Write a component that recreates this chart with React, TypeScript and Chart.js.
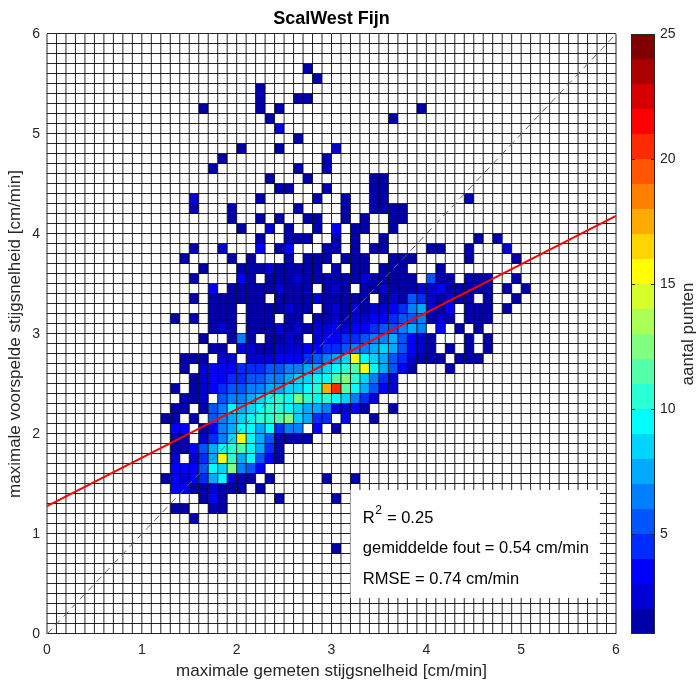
import React, { useEffect, useRef } from "react";
import { Chart, registerables } from "chart.js";
Chart.register(...registerables);

const W = 697;
const H = 682;
const FONT = "'Liberation Sans', Arial, Helvetica, sans-serif";

const chartTitle = "ScalWest Fijn";
const xTitle = "maximale gemeten stijgsnelheid [cm/min]";
const yTitle = "maximale voorspelde stijgsnelheid [cm/min]";
const cbTitle = "aantal punten";
const xTicks = [0, 1, 2, 3, 4, 5, 6];
const yTicks = [0, 1, 2, 3, 4, 5, 6];
const cbTicks = [5, 10, 15, 20, 25];
const cbMin = 1;
const cbMax = 25;
const binSize = 0.1;
const firstCol = 11;
const topRow = 56;
// counts per 0.1 x 0.1 bin; '.'=0, 1-9, a=10 ... o=24 ; '|' separators (cols 11-20|21-30|31-40|41-50|51-53)
const countRows = [
  "..........|......1...|..........|..........|...", // 56
  "..........|.......1..|..........|..........|...", // 55
  "..........|.1........|..........|..........|...", // 54
  "..........|.1...11...|..........|..........|...", // 53
  ".....1....|.1.1......|........1.|..........|...", // 52
  "..........|..1.......|.....1....|..........|...", // 51
  "..........|...2......|..........|..........|...", // 50
  "..........|.....1....|..........|..........|...", // 49
  ".........1|...1.....2|..........|..........|...", // 48
  ".......1..|........1.|..........|..........|...", // 47
  "......1...|.....1..1.|..........|..........|...", // 46
  "..........|..1...1...|...11.....|..........|...", // 45
  "..........|...11...1.|...11.....|..........|...", // 44
  "....2.....|.1.....1..|1..11.....|...1......|...", // 43
  "....1...1.|.....1....|1..1111...|..........|...", // 42
  "........1.|.1.1..11..|1.1..11...|..........|...", // 41
  ".........1|..2.1..1.3|.11..1....|..........|...", // 40
  "..........|.1..111..1|.1..1.....|....1.1...|...", // 39
  "....1..2..|.3.13...11|.1.11....1|1..1...2..|...", // 38
  "...1....1.|1...1.111.|111..111..|...1....1.|...", // 37
  ".....1...1|11211111.1|.11.111...|1.........|...", // 36
  "....1....3|1.11121111|11211111.5|11.111..1.|...", // 35
  "......3.11|1112111.12|1.11211122|311111.1.1|...", // 34
  "....1.1111|11.1111211|111.121542|1211.1..1.|...", // 33
  "......111.|1111211.12|1212234672|13.111.1..|...", // 32
  "..1.1.111.|111.11.112|1223345561|21.111....|...", // 31
  "......121.|1112121223|233455676.|3.1.1.....|...", // 30
  ".....1..16|1.1121.233|4456675321|...1.1....|...", // 29
  "......11.2|2112223344|5667875321|.1.1.1....|...", // 28
  "...111.22.|2223334567|8f98754211|1.111.....|...", // 27
  "...1.23334|4455667789|abf97531..|.1........|...", // 26
  "....123344|556678899b|ca8642....|..........|...", // 25
  "..1.123455|6677889ahk|b97532....|..........|...", // 24
  "...112.566|789a9ca9a9|8642......|..........|...", // 23
  "..11.15697|89aa987762|231..1....|..........|...", // 22
  ".11.1.5678|9aabc8744.|3..1......|..........|...", // 21
  "..33.13679|979466.3.1|..........|..........|...", // 20
  "..11.2468f|9751111...|..........|..........|...", // 19
  "..113579ab|9741......|..........|..........|...", // 18
  "..2.247fa7|9531......|..........|..........|...", // 17
  "..333598c6|53........|..........|..........|...", // 16
  ".132347921|1.1.....1.|.1........|..........|...", // 15
  "..33112111|.1........|..........|..........|...", // 14
  ".....131..|...1.....1|..........|..........|...", // 13
  "..11..11..|..........|..........|..........|...", // 12
  "....1.....|..........|..........|..........|...", // 11
  "..........|..........|..........|..........|...", // 10
  "..........|..........|..........|..........|...", // 9
  "..........|.........1|..........|..........|...", // 8
];
const fitLineX = [0, 6];
const fitLineY = [1.28, 4.18];
const diagLineX = [0, 6];
const diagLineY = [0, 6];
const statsLines = ["R2 = 0.25", "gemiddelde fout = 0.54 cm/min", "RMSE = 0.74 cm/min"];
// jet(24)
const jetColors = [
  [0, 0, 0.667], [0, 0, 0.833], [0, 0, 1], [0, 0.167, 1], [0, 0.333, 1], [0, 0.5, 1],
  [0, 0.667, 1], [0, 0.833, 1], [0, 1, 1], [0.167, 1, 0.833], [0.333, 1, 0.667], [0.5, 1, 0.5],
  [0.667, 1, 0.333], [0.833, 1, 0.167], [1, 1, 0], [1, 0.833, 0], [1, 0.667, 0], [1, 0.5, 0],
  [1, 0.333, 0], [1, 0.167, 0], [1, 0, 0], [0.833, 0, 0], [0.667, 0, 0], [0.5, 0, 0],
];

function jet(idx: number): string {
  const c = jetColors[Math.max(0, Math.min(jetColors.length - 1, idx))];
  return `rgb(${Math.round(c[0] * 255)},${Math.round(c[1] * 255)},${Math.round(c[2] * 255)})`;
}
function decode(ch: string): number {
  if (ch === ".") return 0;
  if (ch >= "1" && ch <= "9") return Number(ch);
  return ch.charCodeAt(0) - 97 + 10;
}
function countColor(v: number): string {
  const n = jetColors.length;
  const idx = Math.floor(((v - cbMin) / (cbMax - cbMin)) * n);
  return jet(idx);
}

const heatmapPlugin = {
  id: "heatmap",
  beforeDatasetsDraw(chart: any) {
    const { ctx, chartArea: a, scales } = chart;
    const xs = scales.x;
    const ys = scales.y;
    ctx.save();
    ctx.fillStyle = "#ffffff";
    ctx.fillRect(a.left, a.top, a.right - a.left, a.bottom - a.top);
    countRows.forEach((raw, i) => {
      const s = raw.replace(/\|/g, "");
      const row = topRow - i;
      for (let c = 0; c < s.length; c++) {
        const v = decode(s[c]);
        if (!v) continue;
        const col = firstCol + c;
        const x0 = xs.getPixelForValue(col * binSize);
        const x1 = xs.getPixelForValue((col + 1) * binSize);
        const y0 = ys.getPixelForValue((row + 1) * binSize);
        const y1 = ys.getPixelForValue(row * binSize);
        ctx.fillStyle = countColor(v);
        ctx.fillRect(x0, y0, x1 - x0, y1 - y0);
      }
    });
    ctx.strokeStyle = "rgba(0,0,0,0.85)";
    ctx.lineWidth = 1;
    ctx.beginPath();
    const nx = Math.round((xs.max - xs.min) / binSize);
    for (let k = 0; k <= nx; k++) {
      const px = xs.getPixelForValue(xs.min + k * binSize);
      ctx.moveTo(px, a.top);
      ctx.lineTo(px, a.bottom);
    }
    const ny = Math.round((ys.max - ys.min) / binSize);
    for (let k = 0; k <= ny; k++) {
      const py = ys.getPixelForValue(ys.min + k * binSize) - 0.5;
      ctx.moveTo(a.left, py);
      ctx.lineTo(a.right, py);
    }
    ctx.stroke();
    // stats box
    const bx0 = xs.getPixelForValue(3.2);
    const bx1 = xs.getPixelForValue(5.83);
    const by0 = ys.getPixelForValue(1.44);
    const by1 = ys.getPixelForValue(0.36);
    ctx.fillStyle = "#ffffff";
    ctx.fillRect(bx0, by0, bx1 - bx0, by1 - by0);
    ctx.fillStyle = "#000000";
    ctx.textBaseline = "middle";
    ctx.textAlign = "left";
    const tx = xs.getPixelForValue(3.33);
    const lineYs = [1.16, 0.86, 0.55];
    const fs = 16.5;
    ctx.font = `${fs}px ${FONT}`;
    const r2y = ys.getPixelForValue(lineYs[0]);
    const parts = statsLines[0].split("2");
    ctx.fillText(parts[0], tx, r2y);
    const wR = ctx.measureText(parts[0]).width;
    ctx.font = `12px ${FONT}`;
    ctx.fillText("2", tx + wR + 0.5, r2y - 7);
    const w2 = ctx.measureText("2").width;
    ctx.font = `${fs}px ${FONT}`;
    ctx.fillText(parts.slice(1).join("2"), tx + wR + w2 + 1, r2y);
    ctx.fillText(statsLines[1], tx, ys.getPixelForValue(lineYs[1]));
    ctx.fillText(statsLines[2], tx, ys.getPixelForValue(lineYs[2]));
    ctx.restore();
  },
  afterDraw(chart: any) {
    const { ctx, chartArea: a } = chart;
    ctx.save();
    ctx.fillStyle = "#000000";
    ctx.font = `bold 18px ${FONT}`;
    ctx.textAlign = "center";
    ctx.textBaseline = "middle";
    ctx.fillText(chartTitle, (a.left + a.right) / 2, 19);
    ctx.fillStyle = "#262626";
    ctx.font = `17px ${FONT}`;
    ctx.fillText(xTitle, (a.left + a.right) / 2, 671);
    ctx.save();
    ctx.translate(15, (a.top + a.bottom) / 2);
    ctx.rotate(-Math.PI / 2);
    ctx.fillText(yTitle, 0, 0);
    ctx.restore();
    // colorbar
    const cx0 = a.right + 15;
    const cw = 24;
    const cTop = a.top;
    const cBot = a.bottom;
    const n = jetColors.length;
    const valToPx = (v: number) => cBot - ((v - cbMin) / (cbMax - cbMin)) * (cBot - cTop);
    for (let i = 0; i < n; i++) {
      const v0 = cbMin + (i * (cbMax - cbMin)) / n;
      const v1 = cbMin + ((i + 1) * (cbMax - cbMin)) / n;
      const p0 = valToPx(v1);
      const p1 = valToPx(v0);
      ctx.fillStyle = jet(i);
      ctx.fillRect(cx0, Math.floor(p0), cw, Math.ceil(p1) - Math.floor(p0));
    }
    ctx.strokeStyle = "#262626";
    ctx.lineWidth = 1;
    ctx.strokeRect(cx0 + 0.5, cTop + 0.5, cw - 1, cBot - cTop - 1);
    ctx.beginPath();
    ctx.font = `14px ${FONT}`;
    ctx.textAlign = "left";
    ctx.fillStyle = "#262626";
    cbTicks.forEach((t) => {
      const py = Math.round(valToPx(t)) + 0.5;
      ctx.moveTo(cx0, py);
      ctx.lineTo(cx0 + 4, py);
      ctx.moveTo(cx0 + cw - 4, py);
      ctx.lineTo(cx0 + cw, py);
      ctx.fillText(String(t), cx0 + cw + 5, py);
    });
    ctx.stroke();
    ctx.save();
    ctx.font = `17px ${FONT}`;
    ctx.textAlign = "center";
    ctx.translate(688, (cTop + cBot) / 2);
    ctx.rotate(-Math.PI / 2);
    ctx.fillText(cbTitle, 0, 0);
    ctx.restore();
    ctx.restore();
  },
};

export default function App() {
  const ref = useRef<HTMLCanvasElement | null>(null);
  useEffect(() => {
    document.body.style.margin = "0";
    const canvas = ref.current;
    if (!canvas) return;
    const chart = new Chart(canvas, {
      type: "scatter",
      data: {
        datasets: [
          {
            label: "fit",
            data: fitLineX.map((x, i) => ({ x, y: fitLineY[i] })),
            showLine: true,
            borderColor: "#ff0000",
            borderWidth: 2,
            pointRadius: 0,
          },
          {
            label: "1:1",
            data: diagLineX.map((x, i) => ({ x, y: diagLineY[i] })),
            showLine: true,
            borderColor: "#666666",
            borderWidth: 1,
            borderDash: [7, 5],
            pointRadius: 0,
          },
        ],
      },
      options: {
        responsive: false,
        animation: false,
        devicePixelRatio: 1,
        layout: { padding: { top: 34, right: 81, left: 0, bottom: 0 } },
        plugins: { legend: { display: false }, tooltip: { enabled: false }, title: { display: false } },
        scales: {
          x: {
            type: "linear",
            min: 0,
            max: 6,
            grid: { display: false, drawTicks: false },
            border: { display: false },
            ticks: {
              stepSize: 1,
              color: "#262626",
              font: { family: FONT, size: 14 },
              padding: 8,
              maxRotation: 0,
              callback: (v: any) => (xTicks.includes(Number(v)) ? String(v) : ""),
            },
            afterFit: (s: any) => {
              s.height = 48;
            },
          },
          y: {
            type: "linear",
            min: 0,
            max: 6,
            grid: { display: false, drawTicks: false },
            border: { display: false },
            ticks: {
              stepSize: 1,
              color: "#262626",
              font: { family: FONT, size: 14 },
              padding: 7,
              callback: (v: any) => (yTicks.includes(Number(v)) ? String(v) : ""),
            },
            afterFit: (s: any) => {
              s.width = 47;
            },
          },
        },
      },
      plugins: [heatmapPlugin],
    });
    return () => chart.destroy();
  }, []);
  return <canvas ref={ref} width={W} height={H} style={{ display: "block", width: W, height: H }} />;
}
